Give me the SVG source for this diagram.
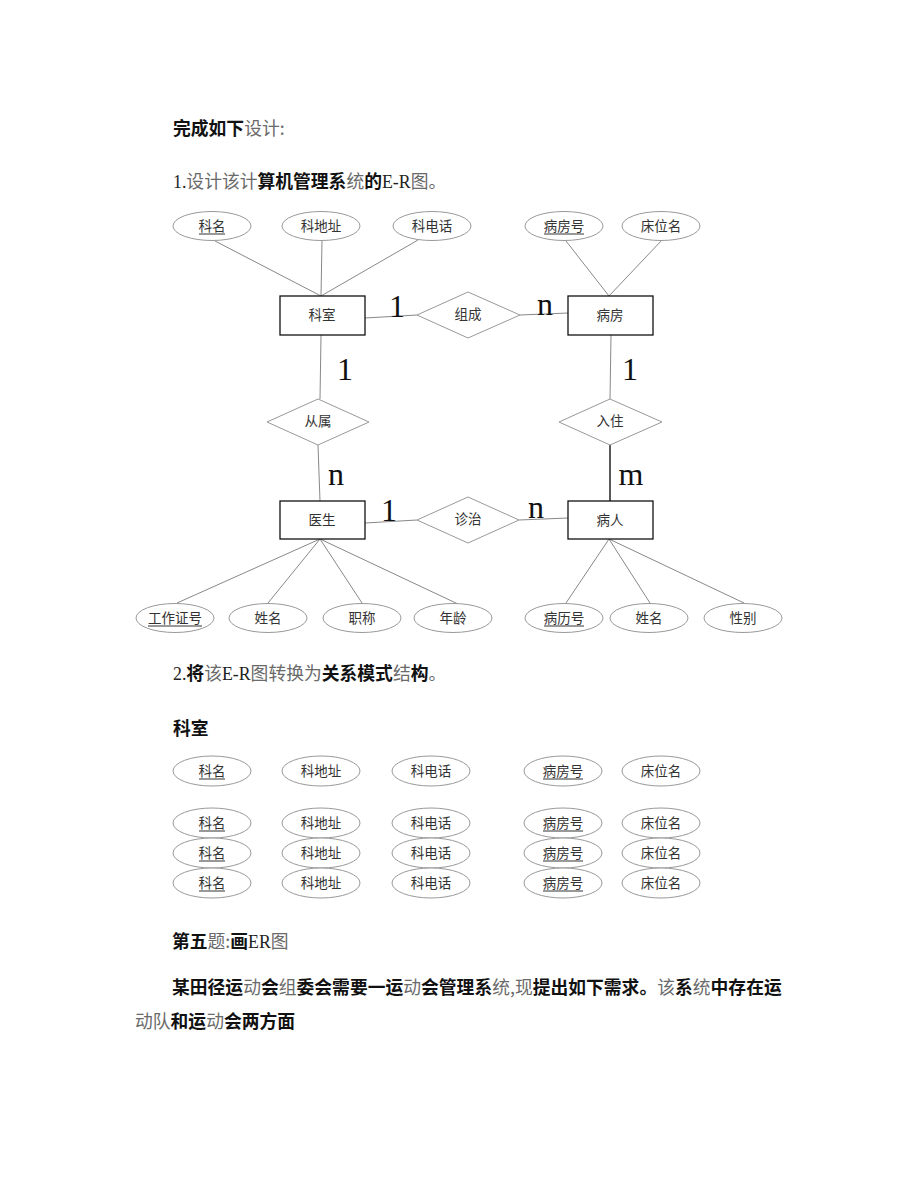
<svg xmlns="http://www.w3.org/2000/svg" width="920" height="1191" viewBox="0 0 920 1191">
<style>
.ent{fill:#fff;stroke:#111;stroke-width:1.3}
.rel{fill:#fff;stroke:#999;stroke-width:1}
.att{fill:#fff;stroke:#999;stroke-width:1}
.ln{stroke:#888;stroke-width:1;fill:none}
.dk{stroke:#222;stroke-width:1.5}
.ul{stroke:#333;stroke-width:1}
.lbl{font-family:"Noto Sans CJK SC","Noto Sans",sans-serif;font-size:13.5px;fill:#333;text-anchor:middle}
.card{font-family:"Liberation Serif",serif;font-size:32px;fill:#111;text-anchor:middle}
.body{font-family:"Noto Sans CJK SC","Noto Sans",sans-serif;font-size:17.8px;fill:#111}
.b{font-weight:bold;fill:#111}
.g{font-weight:normal;fill:#6a6a6a}
.s{font-family:"Liberation Serif",serif;font-weight:normal;fill:#222}
</style>
<rect width="920" height="1191" fill="#fff"/>

<g id="text">
<text class="body" x="173" y="135"><tspan class="b">完成如下</tspan><tspan class="g">设计:</tspan></text>
<text class="body" x="173" y="188"><tspan class="s">1.</tspan><tspan class="g">设计该计</tspan><tspan class="b">算机管理系</tspan><tspan class="g">统</tspan><tspan class="b">的</tspan><tspan class="s">E-R</tspan><tspan class="g">图。</tspan></text>
<text class="body" x="173" y="680"><tspan class="s">2.</tspan><tspan class="b">将</tspan><tspan class="g">该</tspan><tspan class="s">E-R</tspan><tspan class="g">图转换为</tspan><tspan class="b">关系模式</tspan><tspan class="g">结</tspan><tspan class="b">构</tspan><tspan class="g">。</tspan></text>
<text class="body" x="173" y="735"><tspan class="b">科室</tspan></text>
<text class="body" x="172" y="948"><tspan class="b">第五</tspan><tspan class="g">题:</tspan><tspan class="b">画</tspan><tspan class="s">ER</tspan><tspan class="g">图</tspan></text>
<text class="body" x="172" y="994"><tspan class="b">某田径运</tspan><tspan class="g">动</tspan><tspan class="b">会</tspan><tspan class="g">组</tspan><tspan class="b">委会需要一运</tspan><tspan class="g">动</tspan><tspan class="b">会管理系</tspan><tspan class="g">统,现</tspan><tspan class="b">提出如下需求。</tspan><tspan class="g">该</tspan><tspan class="b">系</tspan><tspan class="g">统</tspan><tspan class="b">中存在运</tspan></text>
<text class="body" x="135" y="1028"><tspan class="g">动队</tspan><tspan class="b">和运</tspan><tspan class="g">动</tspan><tspan class="b">会两方面</tspan></text>
</g>

<g id="connectors">
<line class="ln" x1="215" y1="241" x2="321" y2="296"/>
<line class="ln" x1="322" y1="241" x2="321" y2="296"/>
<line class="ln" x1="418" y1="240" x2="321" y2="296"/>
<line class="ln" x1="566" y1="241" x2="609" y2="296"/>
<line class="ln" x1="662" y1="240" x2="609" y2="296"/>
<line class="ln" x1="365" y1="318" x2="417" y2="315"/>
<line class="ln" x1="520" y1="315" x2="568" y2="313"/>
<line class="ln" x1="321" y1="335" x2="320" y2="399"/>
<line class="ln" x1="318" y1="445" x2="320" y2="501"/>
<line class="ln" x1="611" y1="335" x2="610" y2="399"/>
<line class="ln dk" x1="610" y1="445" x2="610" y2="501"/>
<line class="ln" x1="365" y1="523" x2="417" y2="520"/>
<line class="ln" x1="519" y1="520" x2="568" y2="518"/>
<line class="ln" x1="320" y1="539" x2="177" y2="603"/>
<line class="ln" x1="320" y1="539" x2="268" y2="603"/>
<line class="ln" x1="320" y1="539" x2="362" y2="603"/>
<line class="ln" x1="320" y1="539" x2="458" y2="604"/>
<line class="ln" x1="609" y1="539" x2="566" y2="603"/>
<line class="ln" x1="609" y1="539" x2="650" y2="603"/>
<line class="ln" x1="609" y1="539" x2="744" y2="603"/>
</g>

<g id="cardinalities">
<text class="card" x="397" y="317">1</text>
<text class="card" x="545" y="315">n</text>
<text class="card" x="345" y="380">1</text>
<text class="card" x="336" y="485">n</text>
<text class="card" x="630" y="380">1</text>
<text class="card" x="631" y="485">m</text>
<text class="card" x="389" y="521">1</text>
<text class="card" x="536" y="518">n</text>
</g>

<g id="e-keshi"><rect class="ent" x="280" y="296" width="85" height="39"/><text class="lbl" x="322" y="320">科室</text></g>
<g id="e-bingfang"><rect class="ent" x="568" y="296" width="85" height="39"/><text class="lbl" x="610" y="320">病房</text></g>
<g id="e-yisheng"><rect class="ent" x="280" y="501" width="85" height="38"/><text class="lbl" x="322" y="525">医生</text></g>
<g id="e-bingren"><rect class="ent" x="568" y="501" width="85" height="38"/><text class="lbl" x="610" y="525">病人</text></g>

<g id="r-zucheng"><polygon class="rel" points="417,315 468,292 520,315 468,338"/><text class="lbl" x="468" y="319">组成</text></g>
<g id="r-congshu"><polygon class="rel" points="267,422 318,399 369,422 318,445"/><text class="lbl" x="318" y="426">从属</text></g>
<g id="r-ruzhu"><polygon class="rel" points="559,422 610,399 662,422 610,445"/><text class="lbl" x="610" y="426">入住</text></g>
<g id="r-zhenzhi"><polygon class="rel" points="417,520 468,497 519,520 468,543"/><text class="lbl" x="468" y="524">诊治</text></g>

<g id="a-keming"><ellipse class="att" cx="212" cy="226" rx="39" ry="14.5"/><text class="lbl" x="212" y="230.5">科名</text><line class="ul" x1="199" y1="234" x2="225" y2="234"/></g>
<g id="a-kedizhi"><ellipse class="att" cx="321" cy="226" rx="39" ry="14.5"/><text class="lbl" x="321" y="230.5">科地址</text></g>
<g id="a-kedianhua"><ellipse class="att" cx="432" cy="226" rx="39" ry="14.5"/><text class="lbl" x="432" y="230.5">科电话</text></g>
<g id="a-bingfanghao"><ellipse class="att" cx="564" cy="226" rx="39" ry="14.5"/><text class="lbl" x="564" y="230.5">病房号</text><line class="ul" x1="544" y1="234" x2="584" y2="234"/></g>
<g id="a-chuangweiming"><ellipse class="att" cx="661" cy="226" rx="39" ry="14.5"/><text class="lbl" x="661" y="230.5">床位名</text></g>

<g id="a-gongzuozhenghao"><ellipse class="att" cx="175" cy="618" rx="39" ry="14.5"/><text class="lbl" x="175" y="622.5">工作证号</text><line class="ul" x1="148" y1="626" x2="202" y2="626"/></g>
<g id="a-xingming1"><ellipse class="att" cx="268" cy="618" rx="39" ry="14.5"/><text class="lbl" x="268" y="622.5">姓名</text></g>
<g id="a-zhicheng"><ellipse class="att" cx="362" cy="618" rx="39" ry="14.5"/><text class="lbl" x="362" y="622.5">职称</text></g>
<g id="a-nianling"><ellipse class="att" cx="453" cy="618" rx="39" ry="14.5"/><text class="lbl" x="453" y="622.5">年龄</text></g>
<g id="a-binglihao"><ellipse class="att" cx="564" cy="618" rx="39" ry="14.5"/><text class="lbl" x="564" y="622.5">病历号</text><line class="ul" x1="544" y1="626" x2="584" y2="626"/></g>
<g id="a-xingming2"><ellipse class="att" cx="649" cy="618" rx="39" ry="14.5"/><text class="lbl" x="649" y="622.5">姓名</text></g>
<g id="a-xingbie"><ellipse class="att" cx="743" cy="618" rx="39" ry="14.5"/><text class="lbl" x="743" y="622.5">性别</text></g>

<g id="schema-row1">
<ellipse class="att" cx="212" cy="771" rx="39" ry="15"/><text class="lbl" x="212" y="775.5">科名</text><line class="ul" x1="199" y1="779" x2="225" y2="779"/>
<ellipse class="att" cx="321" cy="771" rx="39" ry="15"/><text class="lbl" x="321" y="775.5">科地址</text>
<ellipse class="att" cx="431" cy="771" rx="39" ry="15"/><text class="lbl" x="431" y="775.5">科电话</text>
<ellipse class="att" cx="563" cy="771" rx="39" ry="15"/><text class="lbl" x="563" y="775.5">病房号</text><line class="ul" x1="543" y1="779" x2="583" y2="779"/>
<ellipse class="att" cx="661" cy="771" rx="39" ry="15"/><text class="lbl" x="661" y="775.5">床位名</text>
</g>
<g id="schema-row2">
<ellipse class="att" cx="212" cy="823" rx="39" ry="15"/><text class="lbl" x="212" y="827.5">科名</text><line class="ul" x1="199" y1="831" x2="225" y2="831"/>
<ellipse class="att" cx="321" cy="823" rx="39" ry="15"/><text class="lbl" x="321" y="827.5">科地址</text>
<ellipse class="att" cx="431" cy="823" rx="39" ry="15"/><text class="lbl" x="431" y="827.5">科电话</text>
<ellipse class="att" cx="563" cy="823" rx="39" ry="15"/><text class="lbl" x="563" y="827.5">病房号</text><line class="ul" x1="543" y1="831" x2="583" y2="831"/>
<ellipse class="att" cx="661" cy="823" rx="39" ry="15"/><text class="lbl" x="661" y="827.5">床位名</text>
</g>
<g id="schema-row3">
<ellipse class="att" cx="212" cy="853" rx="39" ry="15"/><text class="lbl" x="212" y="857.5">科名</text><line class="ul" x1="199" y1="861" x2="225" y2="861"/>
<ellipse class="att" cx="321" cy="853" rx="39" ry="15"/><text class="lbl" x="321" y="857.5">科地址</text>
<ellipse class="att" cx="431" cy="853" rx="39" ry="15"/><text class="lbl" x="431" y="857.5">科电话</text>
<ellipse class="att" cx="563" cy="853" rx="39" ry="15"/><text class="lbl" x="563" y="857.5">病房号</text><line class="ul" x1="543" y1="861" x2="583" y2="861"/>
<ellipse class="att" cx="661" cy="853" rx="39" ry="15"/><text class="lbl" x="661" y="857.5">床位名</text>
</g>
<g id="schema-row4">
<ellipse class="att" cx="212" cy="883" rx="39" ry="15"/><text class="lbl" x="212" y="887.5">科名</text><line class="ul" x1="199" y1="891" x2="225" y2="891"/>
<ellipse class="att" cx="321" cy="883" rx="39" ry="15"/><text class="lbl" x="321" y="887.5">科地址</text>
<ellipse class="att" cx="431" cy="883" rx="39" ry="15"/><text class="lbl" x="431" y="887.5">科电话</text>
<ellipse class="att" cx="563" cy="883" rx="39" ry="15"/><text class="lbl" x="563" y="887.5">病房号</text><line class="ul" x1="543" y1="891" x2="583" y2="891"/>
<ellipse class="att" cx="661" cy="883" rx="39" ry="15"/><text class="lbl" x="661" y="887.5">床位名</text>
</g>
</svg>
